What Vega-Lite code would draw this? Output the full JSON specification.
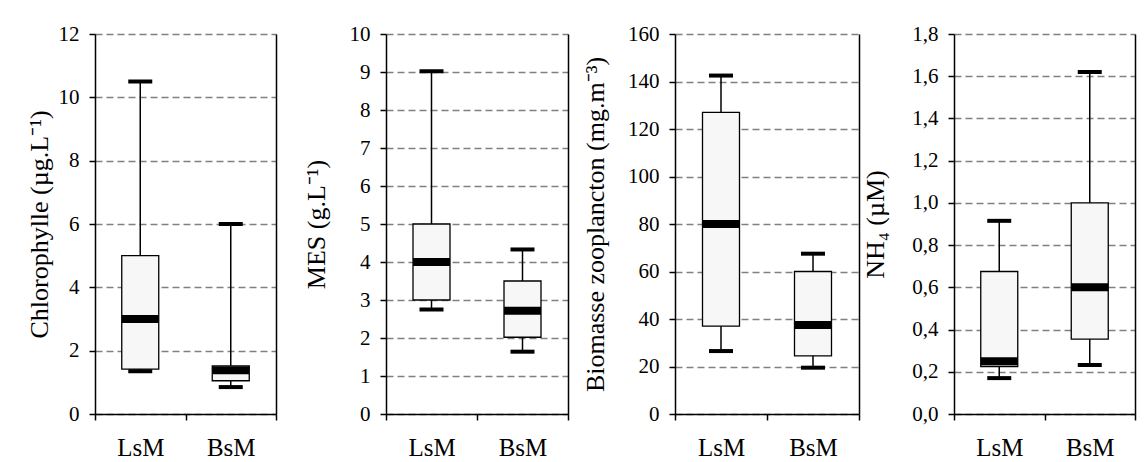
{
  "$schema": "https://vega.github.io/schema/vega-lite/v6.json",
  "background": "white",
  "padding": {"left": 26, "top": 23, "right": 5, "bottom": 5},
  "spacing": 2,
  "config": {
    "view": {"stroke": null},
    "font": "Liberation Serif",
    "axis": {
      "labelFont": "Liberation Serif",
      "titleFont": "Liberation Serif",
      "labelColor": "black",
      "titleColor": "black",
      "titleFontWeight": "normal",
      "domainColor": "black",
      "tickColor": "black"
    }
  },
  "datasets": {
    "box": [
      {"panel": "chl", "site": "LsM", "lo": 1.35, "q1": 1.42, "med": 3.0, "q3": 5.0, "hi": 10.5},
      {"panel": "chl", "site": "BsM", "lo": 0.85, "q1": 1.05, "med": 1.38, "q3": 1.52, "hi": 6.0},
      {"panel": "mes", "site": "LsM", "lo": 2.75, "q1": 3.0, "med": 4.0, "q3": 5.0, "hi": 9.02},
      {"panel": "mes", "site": "BsM", "lo": 1.64, "q1": 2.02, "med": 2.72, "q3": 3.5, "hi": 4.33},
      {"panel": "bio", "site": "LsM", "lo": 26.5, "q1": 37.0, "med": 80.0, "q3": 127.0, "hi": 142.5},
      {"panel": "bio", "site": "BsM", "lo": 19.5, "q1": 24.5, "med": 37.5, "q3": 60.0, "hi": 67.5},
      {"panel": "nh4", "site": "LsM", "lo": 0.17, "q1": 0.225, "med": 0.25, "q3": 0.675, "hi": 0.915},
      {"panel": "nh4", "site": "BsM", "lo": 0.232, "q1": 0.355, "med": 0.6, "q3": 1.0, "hi": 1.62}
    ]
  },
  "hconcat": [
    {
      "width": 181, "height": 380,
      "data": {"name": "box"},
      "transform": [{"filter": "datum.panel == 'chl'"}],
      "encoding": {
        "x": {"field": "site", "type": "nominal", "sort": ["LsM", "BsM"],
          "scale": {"paddingInner": 0, "paddingOuter": 0},
          "axis": {"title": null, "labelAngle": 0, "tickBand": "extent", "labelFontSize": 25, "tickSize": 6, "labelPadding": 15, "domainWidth": 1.5, "tickWidth": 1.5}}
      },
      "layer": [
        {"mark": {"type": "rule", "color": "black", "strokeWidth": 1.5},
          "encoding": {
            "y": {"field": "lo", "type": "quantitative", "scale": {"domain": [0, 12], "nice": false},
              "axis": {"title": "Chlorophylle (µg.L⁻¹)", "values": [0, 2, 4, 6, 8, 10, 12], "labelFontSize": 21, "titleFontSize": 26, "tickSize": 6, "labelPadding": 10, "titlePadding": 6, "grid": true, "gridColor": "#808080", "gridDash": [7, 4], "gridWidth": 1.3, "domainWidth": 1.5, "tickWidth": 1.5}},
            "y2": {"field": "hi"}}},
        {"mark": {"type": "bar", "size": 37, "fill": "#f7f7f7", "stroke": "black", "strokeWidth": 1.3},
          "encoding": {"y": {"field": "q1", "type": "quantitative", "axis": null}, "y2": {"field": "q3"}}},
        {"mark": {"type": "tick", "size": 37, "thickness": 8, "color": "black", "opacity": 1},
          "encoding": {"y": {"field": "med", "type": "quantitative", "axis": null}}},
        {"mark": {"type": "tick", "size": 24, "thickness": 4, "color": "black", "opacity": 1},
          "encoding": {"y": {"field": "lo", "type": "quantitative", "axis": null}}},
        {"mark": {"type": "tick", "size": 24, "thickness": 4, "color": "black", "opacity": 1},
          "encoding": {"y": {"field": "hi", "type": "quantitative",
            "axis": {"orient": "right", "title": null, "values": [0], "labels": true, "labelOpacity": 0, "labelFontSize": 21, "labelPadding": 14, "ticks": false, "grid": false, "domainWidth": 1.5}}}}
      ],
      "resolve": {"axis": {"y": "independent"}}
    },
    {
      "width": 182, "height": 380,
      "data": {"name": "box"},
      "transform": [{"filter": "datum.panel == 'mes'"}],
      "encoding": {
        "x": {"field": "site", "type": "nominal", "sort": ["LsM", "BsM"],
          "scale": {"paddingInner": 0, "paddingOuter": 0},
          "axis": {"title": null, "labelAngle": 0, "tickBand": "extent", "labelFontSize": 25, "tickSize": 6, "labelPadding": 15, "domainWidth": 1.5, "tickWidth": 1.5}}
      },
      "layer": [
        {"mark": {"type": "rule", "color": "black", "strokeWidth": 1.5},
          "encoding": {
            "y": {"field": "lo", "type": "quantitative", "scale": {"domain": [0, 10], "nice": false},
              "axis": {"title": "MES (g.L⁻¹)", "values": [0, 1, 2, 3, 4, 5, 6, 7, 8, 9, 10], "labelFontSize": 21, "titleFontSize": 26, "tickSize": 6, "labelPadding": 10, "titlePadding": 20, "grid": true, "gridColor": "#808080", "gridDash": [7, 4], "gridWidth": 1.3, "domainWidth": 1.5, "tickWidth": 1.5}},
            "y2": {"field": "hi"}}},
        {"mark": {"type": "bar", "size": 37, "fill": "#f7f7f7", "stroke": "black", "strokeWidth": 1.3},
          "encoding": {"y": {"field": "q1", "type": "quantitative", "axis": null}, "y2": {"field": "q3"}}},
        {"mark": {"type": "tick", "size": 37, "thickness": 8, "color": "black", "opacity": 1},
          "encoding": {"y": {"field": "med", "type": "quantitative", "axis": null}}},
        {"mark": {"type": "tick", "size": 24, "thickness": 4, "color": "black", "opacity": 1},
          "encoding": {"y": {"field": "lo", "type": "quantitative", "axis": null}}},
        {"mark": {"type": "tick", "size": 24, "thickness": 4, "color": "black", "opacity": 1},
          "encoding": {"y": {"field": "hi", "type": "quantitative",
            "axis": {"orient": "right", "title": null, "values": [0], "labels": true, "labelOpacity": 0, "labelFontSize": 21, "labelPadding": 1, "ticks": false, "grid": false, "domainWidth": 1.5}}}}
      ],
      "resolve": {"axis": {"y": "independent"}}
    },
    {
      "width": 184, "height": 380,
      "data": {"name": "box"},
      "transform": [{"filter": "datum.panel == 'bio'"}],
      "encoding": {
        "x": {"field": "site", "type": "nominal", "sort": ["LsM", "BsM"],
          "scale": {"paddingInner": 0, "paddingOuter": 0},
          "axis": {"title": null, "labelAngle": 0, "tickBand": "extent", "labelFontSize": 25, "tickSize": 6, "labelPadding": 15, "domainWidth": 1.5, "tickWidth": 1.5}}
      },
      "layer": [
        {"mark": {"type": "rule", "color": "black", "strokeWidth": 1.5},
          "encoding": {
            "y": {"field": "lo", "type": "quantitative", "scale": {"domain": [0, 160], "nice": false},
              "axis": {"title": "Biomasse zooplancton (mg.m⁻³)", "values": [0, 20, 40, 60, 80, 100, 120, 140, 160], "labelFontSize": 21, "titleFontSize": 26, "tickSize": 6, "labelPadding": 10, "titlePadding": 19, "grid": true, "gridColor": "#808080", "gridDash": [7, 4], "gridWidth": 1.3, "domainWidth": 1.5, "tickWidth": 1.5}},
            "y2": {"field": "hi"}}},
        {"mark": {"type": "bar", "size": 37, "fill": "#f7f7f7", "stroke": "black", "strokeWidth": 1.3},
          "encoding": {"y": {"field": "q1", "type": "quantitative", "axis": null}, "y2": {"field": "q3"}}},
        {"mark": {"type": "tick", "size": 37, "thickness": 8, "color": "black", "opacity": 1},
          "encoding": {"y": {"field": "med", "type": "quantitative", "axis": null}}},
        {"mark": {"type": "tick", "size": 24, "thickness": 4, "color": "black", "opacity": 1},
          "encoding": {"y": {"field": "lo", "type": "quantitative", "axis": null}}},
        {"mark": {"type": "tick", "size": 24, "thickness": 4, "color": "black", "opacity": 1},
          "encoding": {"y": {"field": "hi", "type": "quantitative",
            "axis": {"orient": "right", "title": null, "labels": false, "ticks": false, "grid": false, "domainWidth": 1.5}}}}
      ],
      "resolve": {"axis": {"y": "independent"}}
    },
    {
      "width": 181, "height": 380,
      "data": {"name": "box"},
      "transform": [{"filter": "datum.panel == 'nh4'"}],
      "encoding": {
        "x": {"field": "site", "type": "nominal", "sort": ["LsM", "BsM"],
          "scale": {"paddingInner": 0, "paddingOuter": 0},
          "axis": {"title": null, "labelAngle": 0, "tickBand": "extent", "labelFontSize": 25, "tickSize": 6, "labelPadding": 15, "domainWidth": 1.5, "tickWidth": 1.5}}
      },
      "layer": [
        {"mark": {"type": "rule", "color": "black", "strokeWidth": 1.5},
          "encoding": {
            "y": {"field": "lo", "type": "quantitative", "scale": {"domain": [0, 1.8], "nice": false},
              "axis": {"title": "NH₄ (µM)", "values": [0, 0.2, 0.4, 0.6, 0.8, 1.0, 1.2, 1.4, 1.6, 1.8], "labelExpr": "replace(format(datum.value, '.1f'), '.', ',')", "labelFontSize": 21, "titleFontSize": 26, "tickSize": 6, "labelPadding": 10, "titlePadding": 23, "grid": true, "gridColor": "#808080", "gridDash": [7, 4], "gridWidth": 1.3, "domainWidth": 1.5, "tickWidth": 1.5}},
            "y2": {"field": "hi"}}},
        {"mark": {"type": "bar", "size": 37, "fill": "#f7f7f7", "stroke": "black", "strokeWidth": 1.3},
          "encoding": {"y": {"field": "q1", "type": "quantitative", "axis": null}, "y2": {"field": "q3"}}},
        {"mark": {"type": "tick", "size": 37, "thickness": 8, "color": "black", "opacity": 1},
          "encoding": {"y": {"field": "med", "type": "quantitative", "axis": null}}},
        {"mark": {"type": "tick", "size": 24, "thickness": 4, "color": "black", "opacity": 1},
          "encoding": {"y": {"field": "lo", "type": "quantitative", "axis": null}}},
        {"mark": {"type": "tick", "size": 24, "thickness": 4, "color": "black", "opacity": 1},
          "encoding": {"y": {"field": "hi", "type": "quantitative",
            "axis": {"orient": "right", "title": null, "labels": false, "ticks": false, "grid": false, "domainWidth": 1.5}}}}
      ],
      "resolve": {"axis": {"y": "independent"}}
    }
  ]
}
